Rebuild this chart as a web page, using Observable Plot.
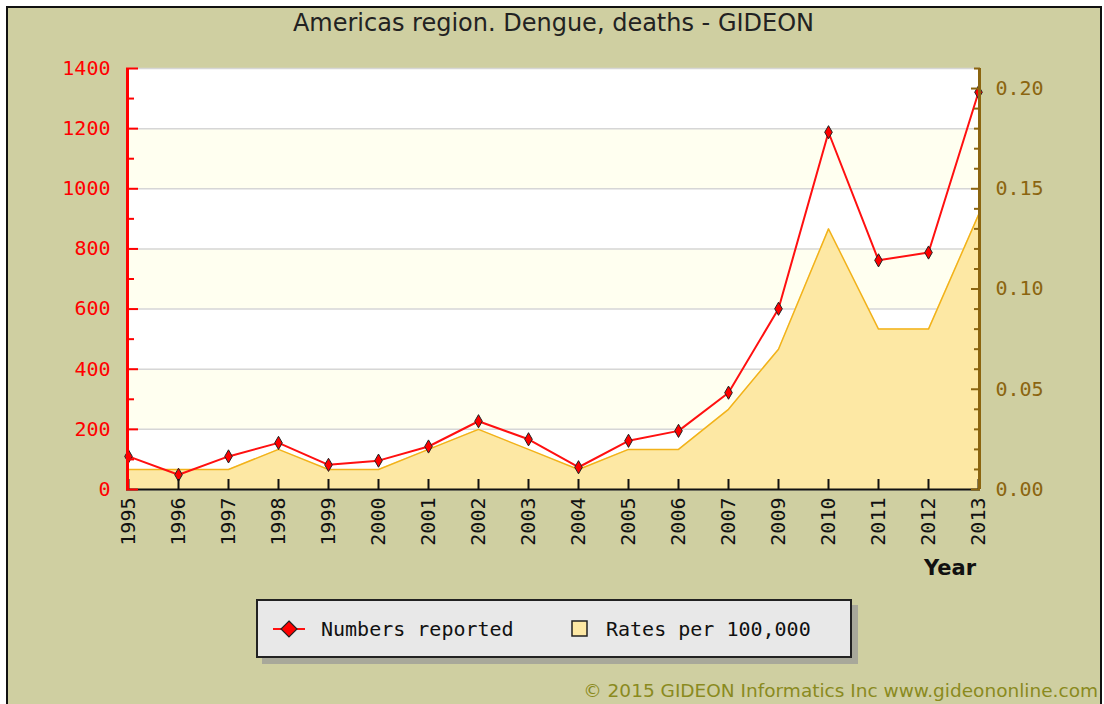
<!DOCTYPE html>
<html>
<head>
<meta charset="utf-8">
<script src="https://cdn.jsdelivr.net/npm/d3@7"></script>
<script src="https://cdn.jsdelivr.net/npm/@observablehq/plot@0.6"></script>
<style>
  body { margin: 0; background: #fff; }
  #wrap { position: relative; width: 1104px; height: 704px; overflow: hidden; }
  #frame { position: absolute; left: 6px; top: 6px; width: 1092px; height: 720px; border: 2px solid #111; background: #cfcfa1; }
  #chart { position: absolute; left: 0; top: 0; }
  #title { position: absolute; left: 7px; width: 1093px; top: 9px; text-align: center; font: 24px "DejaVu Sans", sans-serif; color: #222; }
  #yearlab { position: absolute; left: 924px; top: 556px; font: bold 21px "DejaVu Sans", sans-serif; color: #111; }
  #legend { position: absolute; left: 256px; top: 599px; width: 592px; height: 55px; background: #e8e8e8; border: 2px solid #222; box-shadow: 6px 6px 0 #a8a89a; font: 20px "DejaVu Sans Mono", monospace; color: #111; }
  #legend .item { position: absolute; top: 0; height: 55px; display: flex; align-items: center; }
  #caption { position: absolute; right: 6px; top: 680px; font: 18.5px "DejaVu Sans", sans-serif; color: #8a8a1e; white-space: nowrap; }
</style>
</head>
<body>
<div id="wrap">
  <div id="frame"></div>
  <div id="chart"></div>
  <div id="title">Americas region. Dengue, deaths - GIDEON</div>
  <div id="yearlab">Year</div>
  <div id="legend">
    <div class="item" style="left:14px">
      <svg width="34" height="20" style="margin-right:15px"><line x1="1" y1="10" x2="33" y2="10" stroke="#ff1010" stroke-width="2"/><path d="M17,2 L25,10 L17,18 L9,10 Z" fill="#ff0000" stroke="#222" stroke-width="1.2"/></svg>
      <span>Numbers reported</span>
    </div>
    <div class="item" style="left:313px">
      <svg width="18" height="18" style="margin-right:17px"><rect x="1" y="1" width="15" height="15" fill="#fde8a4" stroke="#222" stroke-width="1.5"/></svg>
      <span>Rates per 100,000</span>
    </div>
  </div>
  <div id="caption">© 2015 GIDEON Informatics Inc www.gideononline.com</div>
</div>
<script>
const years = ["1995","1996","1997","1998","1999","2000","2001","2002","2003","2004","2005","2006","2007","2009","2010","2011","2012","2013"];
const numbersReported = [110, 49, 110, 155, 82, 96, 143, 227, 167, 74, 162, 195, 322, 601, 1188, 762, 788, 1321];
const ratesPer100k = [0.01, 0.01, 0.01, 0.02, 0.01, 0.01, 0.02, 0.03, 0.02, 0.01, 0.02, 0.02, 0.04, 0.07, 0.13, 0.08, 0.08, 0.137];
const leftTicks = [0, 200, 400, 600, 800, 1000, 1200, 1400];
const leftMinor = [100, 300, 500, 700, 900, 1100, 1300];
const rightTicks = [0, 0.05, 0.10, 0.15, 0.20];
const rightMinor = [0.01,0.02,0.03,0.04,0.06,0.07,0.08,0.09,0.11,0.12,0.13,0.14,0.16,0.17,0.18,0.19,0.21];
const bands = [[200, 400], [600, 800], [1000, 1200]];

const leftMax = 1400, rightMax = 0.21;
const k = leftMax / rightMax;
const data = years.map((y, i) => ({year: y, n: numbersReported[i], r: ratesPer100k[i] * k}));

const W = 1104, H = 704, mL = 126, mR = 124, mT = 68, mB = 215;
const pw = W - mL - mR, ph = H - mT - mB;
const brown = "#8b6510";
const mono = "'DejaVu Sans Mono', monospace";

const chart = Plot.plot({
  width: W, height: H,
  marginLeft: mL, marginRight: mR, marginTop: mT, marginBottom: mB,
  style: {background: "transparent", fontFamily: mono, fontSize: "20px", overflow: "visible"},
  x: {type: "point", domain: years, padding: 0, label: null},
  y: {domain: [0, leftMax], label: null},
  marks: [
    Plot.frame({fill: "#ffffff", stroke: null}),
    Plot.rect(bands, {y1: d => d[0], y2: d => d[1], fill: "#fffff0"}),
    Plot.gridY(leftTicks, {stroke: "#d6d6d6", strokeOpacity: 1, strokeWidth: 1.5}),
    Plot.areaY(data, {x: "year", y: "r", fill: "#fde8a4", curve: "linear"}),
    Plot.lineY(data, {x: "year", y: "r", stroke: "#f2b21a", strokeWidth: 1.5, curve: "linear"}),
    Plot.lineY(data, {x: "year", y: "n", stroke: "#ff1010", strokeWidth: 2, curve: "linear"}),
    Plot.dot(data, {x: "year", y: "n", symbol: "diamond", r: 4, fill: "#ff0000", stroke: "#222", strokeWidth: 1}),
    // x axis line and inward ticks
    Plot.ruleY([0], {stroke: "#111", strokeWidth: 2}),
    Plot.ruleX(years, {x: d => d, stroke: "#111", strokeWidth: 2, insetTop: ph - 10}),
    // left axis
    Plot.ruleX([years[0]], {x: d => d, stroke: "#ff0000", strokeWidth: 3, dx: -1}),
    Plot.ruleY(leftTicks, {y: d => d, stroke: "#ff0000", strokeWidth: 2, insetRight: pw - 12}),
    Plot.ruleY(leftMinor, {y: d => d, stroke: "#ff0000", strokeWidth: 2, insetRight: pw - 8}),
    Plot.axisY(leftTicks, {anchor: "left", label: null, tickSize: 0, tickPadding: 16, fill: "#ff0000", fontFamily: mono, fontSize: 20, tickFormat: d => String(d)}),
    // right axis
    Plot.ruleX([years[years.length - 1]], {x: d => d, stroke: brown, strokeWidth: 3, dx: 1}),
    Plot.ruleY(rightTicks.map(t => t * k), {y: d => d, stroke: brown, strokeWidth: 2, insetLeft: pw - 9}),
    Plot.ruleY(rightMinor.map(t => t * k), {y: d => d, stroke: brown, strokeWidth: 2, insetLeft: pw - 6}),
    Plot.axisY(rightTicks.map(t => t * k), {anchor: "right", label: null, tickSize: 0, tickPadding: 15, fill: brown, fontFamily: mono, fontSize: 20, tickFormat: d => (d / k).toFixed(2)}),
    // x labels
    Plot.axisX(years, {anchor: "bottom", label: null, tickSize: 0, tickPadding: 8, tickRotate: -90, fill: "#111", fontFamily: mono, fontSize: 20})
  ]
});
document.getElementById("chart").appendChild(chart);
</script>
</body>
</html>
